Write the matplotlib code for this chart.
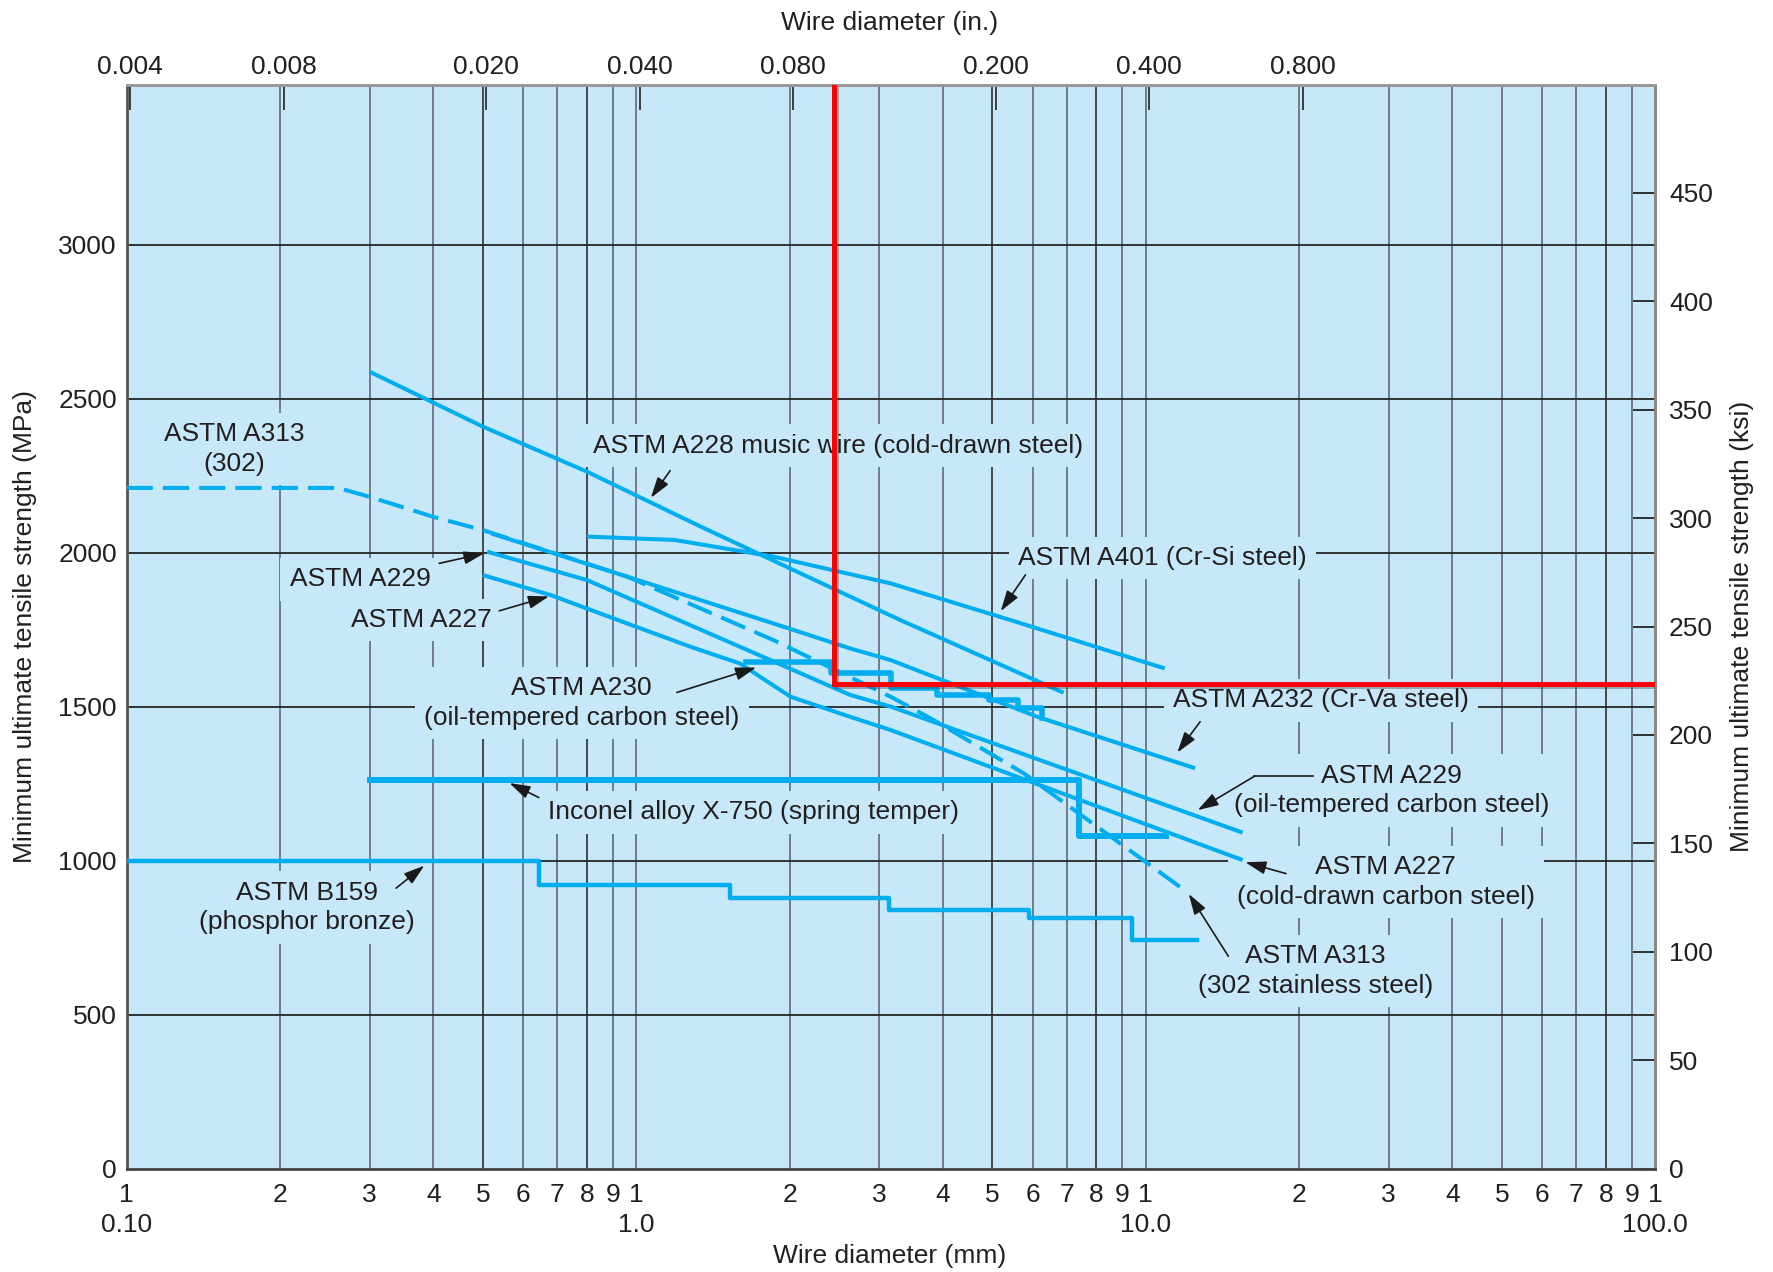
import matplotlib
matplotlib.use("Agg")
import matplotlib.pyplot as plt
import matplotlib.patheffects as pe
from matplotlib.ticker import FixedLocator, FixedFormatter, NullLocator

plt.rcParams["font.family"] = ["Liberation Sans", "DejaVu Sans"]

# ===== DATA: wire diameter (mm) vs minimum tensile strength (MPa) =====
a228_d = [0.3, 0.5, 0.8, 1.34, 3.3, 6.9]
a228_s = [2587, 2409, 2263, 2084, 1781, 1545]

a401_d = [0.8, 1.19, 1.86, 3.16, 5.43, 10.9]
a401_s = [2052, 2041, 1987, 1900, 1781, 1624]

a232_d = [0.52, 0.96, 1.86, 2.63, 3.16, 6.13, 12.5]
a232_s = [2062, 1922, 1770, 1689, 1651, 1467, 1300]

a229_d = [0.51, 0.8, 1.6, 2.63, 3.16, 15.5]
a229_s = [2003, 1911, 1694, 1538, 1500, 1091]

a227_d = [0.5, 0.68, 0.96, 1.28, 1.6, 1.75, 2.01, 2.63, 3.16, 15.5]
a227_s = [1927, 1862, 1770, 1694, 1640, 1597, 1532, 1467, 1424, 1002]

a313_d = [0.1, 0.26, 0.3, 0.4, 0.5, 0.96, 1.86, 3.16, 3.84, 5.77, 11.9]
a313_s = [2210, 2210, 2181, 2116, 2073, 1922, 1716, 1532, 1456, 1283, 905]

# stepped curves (level starts at each diameter, last value = final drop)
a230_d = [1.64, 2.41, 3.17, 3.9, 4.92, 5.62, 6.25]
a230_s = [1646, 1610, 1559, 1538, 1521, 1494, 1462]

inconel_d = [0.3, 7.4, 10.95]
inconel_s = [1262, 1080, 1080]

b159_d = [0.1, 0.645, 1.53, 3.14, 5.9, 9.39, 12.6]
b159_s = [1000, 922, 878, 840, 813, 743, 743]

# design point lines (red)
red_d = [2.44, 2.44, 98.8]
red_s = [3518, 1575, 1575]

# axis ticks
dec_mm = [0.1, 1, 10, 100]
dec_labels = ["0.10", "1.0", "10.0", "100.0"]
minor_mult = [2, 3, 4, 5, 6, 7, 8, 9]
top_in = [0.004, 0.008, 0.020, 0.040, 0.080, 0.200, 0.400, 0.800]
top_labels = ["0.004", "0.008", "0.020", "0.040", "0.080", "0.200", "0.400", "0.800"]
mpa_ticks = [0, 500, 1000, 1500, 2000, 2500, 3000]
ksi_ticks = [0, 50, 100, 150, 200, 250, 300, 350, 400, 450]
KSI = 7.04  # MPa per ksi as the right-hand scale is drawn

BG = "#c7e8f9"
BLUE = "#00aeef"
INK = "#231f20"

# ===== FIGURE =====
fig = plt.figure(figsize=(17.74, 12.72), dpi=100)
ax = fig.add_axes([0.0714, 0.0812, 0.8616, 0.852])
ax.set_facecolor(BG)
ax.set_xscale("log")
ax.set_xlim(0.1, 100)
ax.set_ylim(0, 3518)

# grid
minor_mm = []
for e in (-1, 0, 1):
    for k in minor_mult:
        minor_mm.append(k * 10.0 ** e)
for e in (-1, 0, 1):
    for k in range(1, 10):
        if e == -1 and k == 1:
            continue
        x = k * 10.0 ** e
        dark = k in (5, 8) and not (e == 1 and k == 5)
        ax.axvline(x, color="#1e1e1e" if dark else "#6e7d87",
                   lw=1.1 if dark else 1.4, zorder=1)
for y in mpa_ticks[1:]:
    ax.axhline(y, color="#262626", lw=1.3, zorder=1)

# ===== CURVES =====
kw = dict(color=BLUE, lw=2.9, solid_capstyle="butt", zorder=4)
ax.plot(a228_d, a228_s, **kw)
ax.plot(a401_d, a401_s, **kw)
ax.plot(a232_d, a232_s, **kw)
ax.plot(a229_d, a229_s, **kw)
ax.plot(a227_d, a227_s, **kw)
ax.plot(a313_d, a313_s, color=BLUE, lw=2.9, dashes=(6.5, 2.5), zorder=4)
ax.step(a230_d, a230_s, where="post", color=BLUE, lw=4.0, zorder=4)
ax.step(inconel_d, inconel_s, where="post", color=BLUE, lw=4.3, zorder=4)
ax.step(b159_d, b159_s, where="post", color=BLUE, lw=3.2, zorder=4)

ax.plot(red_d, red_s, color="#ff0000", lw=3.6, zorder=6, solid_joinstyle="miter",
        path_effects=[pe.SimpleLineShadow(offset=(2, -2), shadow_color="#444", alpha=0.4),
                      pe.Normal()])

# ===== LABELS =====
box = dict(boxstyle="square,pad=0.35", fc=BG, ec="none")
tkw = dict(fontsize=19, color=INK, ha="center", va="center", zorder=3,
           linespacing=1.3, bbox=box)
akw = dict(arrowstyle="-|>,head_length=0.7,head_width=0.22", color="#1a1a1a",
           lw=1.2, shrinkA=0, shrinkB=0, mutation_scale=18)

labels = [
    ("ASTM A313\n(302)", (0.1626, 2337), None, None),
    ("ASTM A228 music wire (cold-drawn steel)", (2.486, 2347), (1.166, 2266), (1.069, 2178)),
    ("ASTM A401 (Cr-Si steel)", (10.8, 1983), (5.81, 1928), (5.195, 1810)),
    ("ASTM A229", (0.287, 1913), (0.4106, 1965), (0.5038, 1998)),
    ("ASTM A227", (0.3784, 1781), (0.5385, 1811), (0.6744, 1858)),
    ("ASTM A230\n(oil-tempered carbon steel)", (0.7821, 1511), (1.202, 1546), (1.72, 1627)),
    ("ASTM A232 (Cr-Va steel)", (22.1, 1520), (12.79, 1451), (11.54, 1351)),
    ("Inconel alloy X-750 (spring temper)", (1.702, 1157), (0.644, 1205), (0.5639, 1252)),
    ("ASTM B159\n(phosphor bronze)", (0.2256, 848), (0.338, 911), (0.384, 984)),
    ("ASTM A229\n(oil-tempered carbon steel)", (30.35, 1228), (16.35, 1274), (12.65, 1164)),
    ("ASTM A227\n(cold-drawn carbon steel)", (29.6, 931), (18.86, 958), (15.69, 995)),
    ("ASTM A313\n(302 stainless steel)", (21.54, 641), (14.53, 690), (12.15, 892)),
]
for text, pos, tail, tip in labels:
    ax.text(pos[0], pos[1], text, **tkw)
    if tail is not None:
        ax.annotate("", xy=tip, xytext=tail, arrowprops=akw, zorder=5)

# leader of the right-hand A229 label
ax.plot([21.3, 16.35], [1274, 1274], color="#1a1a1a", lw=1.2, zorder=3.5)

# ===== AXES =====
ax.xaxis.set_major_locator(FixedLocator(dec_mm))
ax.xaxis.set_major_formatter(FixedFormatter(["1"] * len(dec_mm)))
ax.xaxis.set_minor_locator(FixedLocator(minor_mm))
ax.xaxis.set_minor_formatter(FixedFormatter([str(k) for k in minor_mult] * 3))
ax.tick_params(axis="x", which="both", length=0, pad=10, labelsize=19, labelcolor=INK)
ax.set_yticks(mpa_ticks)
ax.set_yticklabels([str(v) for v in mpa_ticks])
ax.tick_params(axis="y", length=0, pad=7, labelsize=19, labelcolor=INK)

for side, col in (("left", "#555"), ("bottom", "#444"), ("top", "#999"), ("right", "#888")):
    ax.spines[side].set_color(col)
    ax.spines[side].set_linewidth(2)

# second row of bottom labels (decades)
secb = ax.secondary_xaxis("bottom", functions=(lambda v: v, lambda v: v))
secb.set_xticks(dec_mm)
secb.set_xticklabels(dec_labels)
secb.xaxis.set_minor_locator(NullLocator())
secb.tick_params(length=0, pad=32, labelsize=19, labelcolor=INK)
secb.spines["bottom"].set_visible(False)

secx = ax.secondary_xaxis("top", functions=(lambda mm: mm / 25.4, lambda inch: inch * 25.4))
secx.set_xticks(top_in)
secx.set_xticklabels(top_labels)
secx.xaxis.set_minor_locator(NullLocator())
secx.tick_params(direction="in", length=18, width=1.2, color="#222", pad=4,
                 labelsize=19, labelcolor=INK)
secx.spines["top"].set_color("#999")
secx.spines["top"].set_linewidth(2)

secy = ax.secondary_yaxis("right", functions=(lambda m: m / KSI, lambda k: k * KSI))
secy.set_yticks(ksi_ticks)
secy.set_yticklabels([str(v) for v in ksi_ticks])
secy.tick_params(direction="in", length=16, width=1.3, color="#222", pad=10,
                 labelsize=19, labelcolor=INK)
secy.spines["right"].set_color("#888")
secy.spines["right"].set_linewidth(2)

ax.set_xlabel("Wire diameter (mm)", fontsize=19, color=INK, va="center")
ax.xaxis.set_label_coords(0.4993, -0.0805)
ax.set_ylabel("Minimum ultimate tensile strength (MPa)", fontsize=19, color=INK, va="center")
ax.yaxis.set_label_coords(-0.0666, 0.5)
secx.set_xlabel("Wire diameter (in.)", fontsize=19, color=INK, va="center")
secx.xaxis.set_label_coords(0.4993, 1.0575, transform=ax.transAxes)
secy.set_ylabel("Minimum ultimate tensile strength (ksi)", fontsize=19, color=INK, va="center")
secy.yaxis.set_label_coords(1.057, 0.5, transform=ax.transAxes)

fig.savefig("out.png", dpi=100)
